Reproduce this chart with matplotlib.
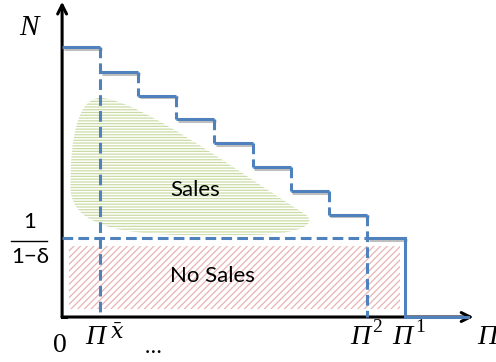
import matplotlib
matplotlib.use("Agg")
import matplotlib.pyplot as plt
import matplotlib.patheffects as pe
from matplotlib.path import Path
from matplotlib.patches import PathPatch, Rectangle

# step edges along the profit axis and the N level of each step
step_edges = [0, 1, 2, 3, 4, 5, 6, 7, 8, 9]
step_levels = [11.35, 10.3, 9.3, 8.3, 7.3, 6.3, 5.3, 4.3, 3.3]
threshold = 3.3          # 1/(1-delta)
pi_xbar = 1
pi_2 = 8
pi_1 = 9

# regions
no_sales_box = (0.18, 0.34, 8.87, 2.98)   # x0, y0, x1, y1
sales_outline = [
    (1.0, 9.2), (2.0, 9.2), (4.8, 5.9), (6.4, 4.3),
    (6.75, 3.8), (6.0, 3.45), (5.0, 3.45),
    (2.5, 3.4), (0.2, 3.3), (0.22, 5.5),
    (0.22, 7.5), (0.4, 9.2), (1.0, 9.2),
]

blue = "#4F81BD"
green = "#CADCA6"
red = "#E8B4B3"

plt.rcParams["hatch.linewidth"] = 0.9
plt.rcParams["mathtext.fontset"] = "dejavuserif"
dash = (0, (3.5, 1.7))

fig = plt.figure(figsize=(4.96, 3.62), dpi=100)
ax = fig.add_axes([0, 0, 1, 1])
ax.set_xlim(-1.63, 11.39)
ax.set_ylim(-1.89, 13.32)
ax.axis("off")

# hatched regions
ax.add_patch(Rectangle((no_sales_box[0], no_sales_box[1]),
                       no_sales_box[2] - no_sales_box[0],
                       no_sales_box[3] - no_sales_box[1],
                       facecolor="none", edgecolor=red, lw=0, hatch="/////"))
codes = [Path.MOVETO] + [Path.CURVE4] * (len(sales_outline) - 1)
ax.add_patch(PathPatch(Path(sales_outline, codes), facecolor="none",
                       edgecolor=green, lw=0, hatch="------"))

# axes with arrows
arrow = dict(arrowstyle="->", lw=2.2, color="black", mutation_scale=16,
             shrinkA=0, shrinkB=0)
ax.annotate("", xy=(0, 13.25), xytext=(0, 0), arrowprops=arrow)
ax.annotate("", xy=(10.8, 0), xytext=(0, 0), arrowprops=arrow)
ax.plot([0, 0.1], [0, 0], color="black", lw=2.2, solid_capstyle="projecting")

# step function: solid treads, dashed risers
shadow = [pe.SimpleLineShadow(offset=(1.2, -1.2), alpha=0.25), pe.Normal()]
for i, lvl in enumerate(step_levels):
    ax.plot([step_edges[i], step_edges[i + 1]], [lvl, lvl], color=blue,
            lw=2.2, solid_capstyle="butt", path_effects=shadow, zorder=3)
for i in range(1, len(step_levels) - 1):
    x = step_edges[i + 1]
    if x == pi_2:
        continue
    ax.plot([x, x], [step_levels[i], step_levels[i + 1]], color=blue,
            lw=2.2, ls=dash, zorder=3)
ax.plot([pi_1, pi_1, 10.65], [step_levels[-1], 0, 0], color=blue, lw=2.2,
        zorder=4)

# dashed guides
ax.plot([pi_xbar, pi_xbar], [step_levels[0], 0], color=blue, lw=2.2,
        ls=dash, zorder=3)
ax.plot([pi_2, pi_2], [step_levels[-2], 0], color=blue, lw=2.2,
        ls=dash, zorder=3)
ax.plot([0, pi_2], [threshold, threshold], color=blue, lw=2.2,
        ls=dash, zorder=3)

# labels
sans = ["Lato", "DejaVu Sans"]
serif = "Liberation Serif"
ax.text(-0.87, 12.14, "N", family=serif, style="italic", fontsize=21,
        ha="center", va="center")
ax.text(-0.84, 3.99, "1", family=sans, fontsize=16, ha="center", va="center")
ax.plot([-1.34, -0.39], [3.19, 3.19], color="black", lw=1.0)
ax.text(-0.84, 2.52, "1\u2212\u03b4", family=sans, fontsize=16,
        ha="center", va="center")

ax.text(-0.05, -1.18, "0", family=serif, fontsize=20, ha="center",
        va="center")
pi_labels = [(0.87, r"$\bar{x}$", 1.45, -0.72, 16), (7.82, "2", 8.27, -0.46, 14),
             (8.92, "1", 9.4, -0.46, 14), (11.15, "", 0, 0, 0)]
for x, sup, sx, sy, fs in pi_labels:
    ax.text(x, -0.84, "\u03a0", family=serif, style="italic", fontsize=20,
            ha="center", va="center")
    if sup:
        ax.text(sx, sy, sup, family=serif, fontsize=fs, ha="center",
                va="center")
ax.text(2.39, -1.51, "\u2026", family=sans, fontsize=16, ha="center",
        va="baseline")

ax.text(3.49, 5.34, "Sales", family=sans, fontsize=16, ha="center",
        va="center", zorder=5)
ax.text(3.94, 1.72, "No Sales", family=sans, fontsize=16, ha="center",
        va="center", zorder=5)

fig.savefig("out.png", dpi=100)
